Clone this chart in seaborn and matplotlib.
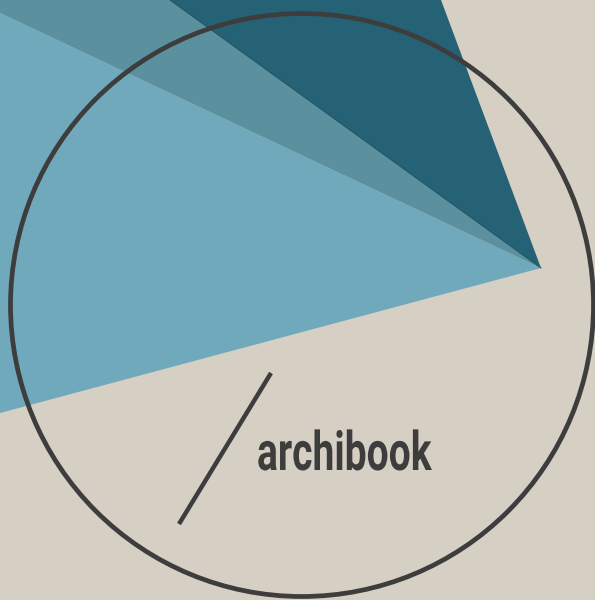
import matplotlib
matplotlib.use("Agg")
import matplotlib.pyplot as plt
import seaborn as sns
import pandas as pd
from matplotlib.patches import Circle
from matplotlib.patheffects import AbstractPathEffect
from matplotlib.transforms import Affine2D

# ---- data (pixel space of a 595x600 canvas, y downwards) ----
light_x = [541, 0, 0]
light_y = [268, 413, 13]
medium_x = [541, 0, 0, 170]
medium_y = [268, 13, 0, 0]
dark_x = [541, 170, 441]
dark_y = [268, 0, 0]
circle_center = (302, 305)
circle_radius = 291.5
slash_x = [271, 179]
slash_y = [373, 524]
label_text = "archibook"
label_pos = (257, 470)

BG = "#d5cfc4"
LIGHT = "#6fa9bb"
MEDIUM = "#5b909f"
DARK = "#266275"
INK = "#3d3d3d"


class Squeeze(AbstractPathEffect):
    """Horizontally condense glyphs about the text origin."""
    def __init__(self, sx):
        super().__init__()
        self.sx = sx

    def draw_path(self, renderer, gc, tpath, affine, rgbFace=None):
        renderer.draw_path(gc, tpath, Affine2D().scale(self.sx, 1.0) + affine, rgbFace)


sns.set_theme(style="white", rc={"axes.facecolor": BG, "figure.facecolor": BG})

fig = plt.figure(figsize=(5.95, 6.0), dpi=100)
ax = fig.add_axes([0, 0, 1, 1])
ax.set_xlim(0, 595)
ax.set_ylim(600, 0)
ax.axis("off")

ax.fill(light_x, light_y, color=LIGHT, lw=0, zorder=1)
ax.fill(medium_x, medium_y, color=MEDIUM, lw=0, zorder=2)
ax.fill(dark_x, dark_y, color=DARK, lw=0, zorder=3)
ax.plot([dark_x[0], dark_x[1]], [dark_y[0], dark_y[1]], color="#1f5566", lw=0.8, zorder=3.5)

ax.add_patch(Circle(circle_center, circle_radius, fill=False, ec=INK, lw=3.4, zorder=4))

slash = pd.DataFrame({"x": slash_x, "y": slash_y})
sns.lineplot(data=slash, x="x", y="y", ax=ax, color=INK, lw=3.2, sort=False,
             solid_capstyle="butt", zorder=5)
ax.set_xlabel("")
ax.set_ylabel("")

ax.text(label_pos[0], label_pos[1], label_text, ha="left", va="baseline",
        fontsize=39, fontweight="bold", color=INK,
        family=["Roboto", "DejaVu Sans"], zorder=6,
        path_effects=[Squeeze(0.72)])

fig.savefig("out.png", dpi=100, facecolor=BG)
